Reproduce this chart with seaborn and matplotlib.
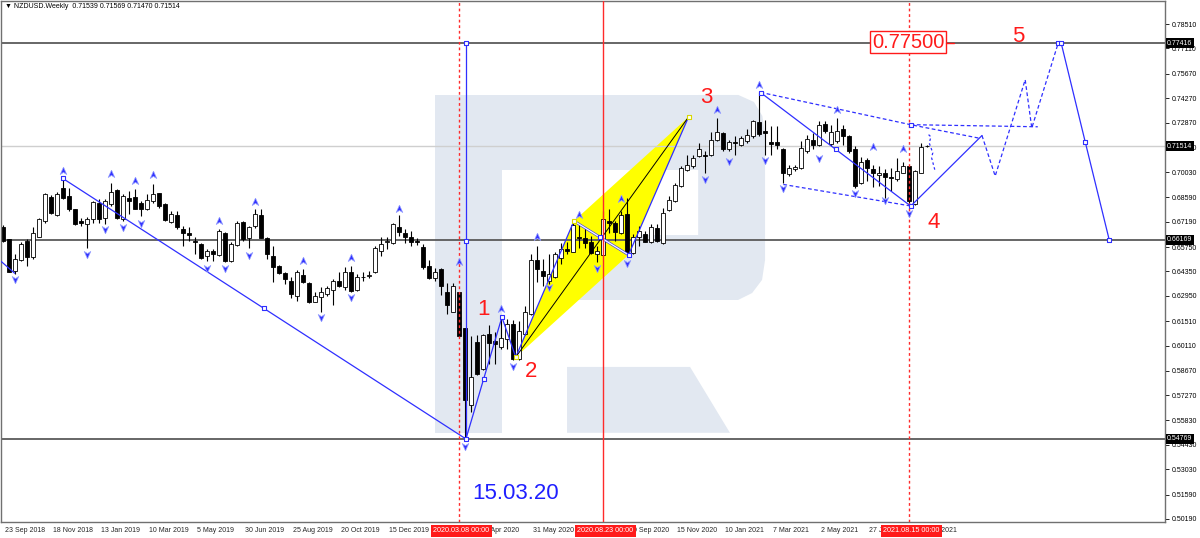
import numpy as np
import pandas as pd
import matplotlib
matplotlib.use("Agg")
import matplotlib.pyplot as plt
import matplotlib.transforms as mtransforms
from matplotlib.patches import Polygon
import seaborn as sns

# ---- weekly NZDUSD candles, index 0 = week of 23 Sep 2018 -------------
opens = [0.6687, 0.6620, 0.6440, 0.6502, 0.6610, 0.6516, 0.6633, 0.6724, 0.6863, 0.6757,
         0.6914, 0.6867, 0.6795, 0.6724, 0.6705, 0.6738, 0.6829, 0.6743, 0.6819, 0.6899,
         0.6738, 0.6857, 0.6863, 0.6829, 0.6791, 0.6838, 0.6882, 0.6819, 0.6721, 0.6759,
         0.6681, 0.6654, 0.6610, 0.6591, 0.6521, 0.6554, 0.6529, 0.6658, 0.6496, 0.6586,
         0.6719, 0.6624, 0.6696, 0.6757, 0.6629, 0.6521, 0.6464, 0.6424, 0.6382, 0.6297,
         0.6415, 0.6367, 0.6263, 0.6287, 0.6306, 0.6329, 0.6382, 0.6344, 0.6434, 0.6329,
         0.6401, 0.6411, 0.6430, 0.6553, 0.6605, 0.6597, 0.6692, 0.6658, 0.6635, 0.6611,
         0.6578, 0.6464, 0.6396, 0.6449, 0.6316, 0.6206, 0.6316, 0.6111, 0.5674, 0.6031,
         0.5879, 0.6078, 0.6040, 0.6002, 0.6046, 0.6135, 0.5936, 0.6078, 0.6192, 0.6502,
         0.6439, 0.6382, 0.6401, 0.6515, 0.6563, 0.6548, 0.6635, 0.6624, 0.6605, 0.6534,
         0.6529, 0.6724, 0.6715, 0.6658, 0.6762, 0.6540, 0.6635, 0.6648, 0.6605, 0.6686,
         0.6597, 0.6787, 0.6838, 0.6924, 0.7015, 0.7038, 0.7095, 0.7104, 0.7104, 0.7186,
         0.7228, 0.7133, 0.7175, 0.7161, 0.7180, 0.7209, 0.7289, 0.7238, 0.7175, 0.7175,
         0.7137, 0.6990, 0.7023, 0.7028, 0.7123, 0.7186, 0.7161, 0.7279, 0.7167, 0.7180,
         0.7251, 0.7209, 0.7133, 0.6939, 0.7072, 0.7024, 0.6989, 0.7000, 0.6977, 0.6962,
         0.7000, 0.7038, 0.6819, 0.7000, 0.71539]
highs = [0.6700, 0.6620, 0.6535, 0.6601, 0.6620, 0.6687, 0.6743, 0.6886, 0.6871, 0.6890,
         0.6971, 0.6914, 0.6795, 0.6743, 0.6749, 0.6838, 0.6848, 0.6852, 0.6943, 0.6905,
         0.6876, 0.6895, 0.6909, 0.6838, 0.6876, 0.6933, 0.6886, 0.6829, 0.6781, 0.6781,
         0.6696, 0.6687, 0.6630, 0.6597, 0.6563, 0.6563, 0.6681, 0.6662, 0.6601, 0.6724,
         0.6724, 0.6696, 0.6791, 0.6791, 0.6635, 0.6582, 0.6472, 0.6430, 0.6401, 0.6445,
         0.6449, 0.6373, 0.6316, 0.6344, 0.6350, 0.6392, 0.6434, 0.6458, 0.6464, 0.6420,
         0.6434, 0.6439, 0.6582, 0.6635, 0.6635, 0.6715, 0.6757, 0.6677, 0.6668, 0.6629,
         0.6591, 0.6502, 0.6453, 0.6453, 0.6369, 0.6369, 0.6320, 0.6111, 0.6065, 0.6069,
         0.6078, 0.6130, 0.6088, 0.6179, 0.6164, 0.6160, 0.6154, 0.6240, 0.6534, 0.6582,
         0.6506, 0.6534, 0.6544, 0.6597, 0.6601, 0.6724, 0.6705, 0.6686, 0.6639, 0.6582,
         0.6782, 0.6791, 0.6724, 0.6782, 0.6857, 0.6648, 0.6696, 0.6667, 0.6705, 0.6705,
         0.6800, 0.6867, 0.6943, 0.7038, 0.7099, 0.7104, 0.7171, 0.7123, 0.7232, 0.7313,
         0.7232, 0.7190, 0.7213, 0.7209, 0.7251, 0.7304, 0.7460, 0.7304, 0.7266, 0.7266,
         0.7142, 0.7047, 0.7047, 0.7180, 0.7218, 0.7228, 0.7294, 0.7294, 0.7275, 0.7313,
         0.7275, 0.7218, 0.7152, 0.7091, 0.7085, 0.7047, 0.7041, 0.7019, 0.7028, 0.7085,
         0.7061, 0.7041, 0.7015, 0.7171, 0.71569]
lows = [0.6601, 0.6430, 0.6420, 0.6496, 0.6464, 0.6506, 0.6630, 0.6715, 0.6762, 0.6753,
        0.6848, 0.6781, 0.6702, 0.6696, 0.6567, 0.6715, 0.6715, 0.6705, 0.6810, 0.6734,
        0.6724, 0.6762, 0.6791, 0.6753, 0.6787, 0.6829, 0.6800, 0.6724, 0.6715, 0.6677,
        0.6582, 0.6610, 0.6535, 0.6506, 0.6496, 0.6496, 0.6525, 0.6487, 0.6487, 0.6582,
        0.6611, 0.6572, 0.6686, 0.6624, 0.6506, 0.6377, 0.6420, 0.6363, 0.6282, 0.6268,
        0.6369, 0.6255, 0.6259, 0.6206, 0.6297, 0.6244, 0.6344, 0.6331, 0.6320, 0.6325,
        0.6382, 0.6396, 0.6426, 0.6521, 0.6563, 0.6591, 0.6639, 0.6597, 0.6582, 0.6586,
        0.6449, 0.6392, 0.6382, 0.6301, 0.6192, 0.6202, 0.6059, 0.5477, 0.5632, 0.5841,
        0.5869, 0.5907, 0.5907, 0.5993, 0.5993, 0.5926, 0.5926, 0.6073, 0.6187, 0.6373,
        0.6354, 0.6363, 0.6395, 0.6477, 0.6534, 0.6544, 0.6572, 0.6572, 0.6534, 0.6487,
        0.6525, 0.6658, 0.6610, 0.6648, 0.6540, 0.6534, 0.6582, 0.6601, 0.6597, 0.6601,
        0.6591, 0.6782, 0.6833, 0.6920, 0.7009, 0.7028, 0.7091, 0.7000, 0.7095, 0.7180,
        0.7123, 0.7123, 0.7104, 0.7152, 0.7171, 0.7200, 0.7213, 0.7099, 0.7099, 0.7133,
        0.6943, 0.6981, 0.7009, 0.7023, 0.7114, 0.7133, 0.7152, 0.7228, 0.7152, 0.7171,
        0.7161, 0.7114, 0.6914, 0.6933, 0.6952, 0.6920, 0.6924, 0.6857, 0.6895, 0.6952,
        0.6996, 0.6810, 0.6813, 0.6996, 0.71470]
closes = [0.6610, 0.6434, 0.6506, 0.6591, 0.6516, 0.6654, 0.6738, 0.6878, 0.6772, 0.6880,
          0.6854, 0.6791, 0.6705, 0.6711, 0.6738, 0.6833, 0.6738, 0.6838, 0.6892, 0.6742,
          0.6867, 0.6838, 0.6795, 0.6795, 0.6844, 0.6876, 0.6810, 0.6730, 0.6762, 0.6687,
          0.6658, 0.6643, 0.6605, 0.6512, 0.6554, 0.6535, 0.6668, 0.6496, 0.6591, 0.6715,
          0.6620, 0.6692, 0.6762, 0.6629, 0.6534, 0.6458, 0.6426, 0.6392, 0.6306, 0.6430,
          0.6373, 0.6259, 0.6293, 0.6316, 0.6339, 0.6382, 0.6350, 0.6430, 0.6325, 0.6401,
          0.6405, 0.6415, 0.6567, 0.6591, 0.6611, 0.6706, 0.6662, 0.6633, 0.6605, 0.6601,
          0.6458, 0.6398, 0.6434, 0.6350, 0.6244, 0.6354, 0.6065, 0.5698, 0.5831, 0.5850,
          0.6069, 0.6027, 0.6021, 0.6054, 0.6135, 0.5936, 0.6092, 0.6206, 0.6502, 0.6449,
          0.6407, 0.6420, 0.6534, 0.6563, 0.6553, 0.6700, 0.6624, 0.6597, 0.6540, 0.6553,
          0.6738, 0.6715, 0.6662, 0.6757, 0.6544, 0.6635, 0.6667, 0.6605, 0.6692, 0.6610,
          0.6772, 0.6844, 0.6928, 0.7028, 0.7042, 0.7085, 0.7137, 0.7095, 0.7186, 0.7232,
          0.7133, 0.7175, 0.7171, 0.7200, 0.7218, 0.7294, 0.7224, 0.7228, 0.7167, 0.7161,
          0.6996, 0.7028, 0.7032, 0.7139, 0.7194, 0.7161, 0.7275, 0.7241, 0.7232, 0.7241,
          0.7209, 0.7123, 0.6924, 0.7061, 0.7028, 0.6996, 0.6996, 0.6977, 0.6971, 0.7009,
          0.7038, 0.6838, 0.7009, 0.7148, 0.71514]

# fractal arrows (week index, price)
up_w = [10, 18, 22, 25, 36, 42, 50, 58, 66, 76, 83, 89, 96, 103, 119, 126, 139, 145, 150]
up_p = [0.7009, 0.6990, 0.6952, 0.6985, 0.6724, 0.6832, 0.6496, 0.6510, 0.6795, 0.6490,
        0.6221, 0.6635, 0.6757, 0.6848, 0.7357, 0.7503, 0.7357, 0.7148, 0.7133]
dn_w = [2, 14, 17, 20, 23, 34, 37, 41, 53, 58, 77, 85, 91, 99, 104, 117, 121, 127, 130,
        136, 142, 147, 151]
dn_p = [0.6392, 0.6534, 0.6677, 0.6687, 0.6715, 0.6453, 0.6453, 0.6529, 0.6174, 0.6288,
        0.5438, 0.5894, 0.6345, 0.6453, 0.6483, 0.6966, 0.7066, 0.7072, 0.6915, 0.7086,
        0.6886, 0.6844, 0.6768]

# analysis lines
lead_w, lead_p = [-0.5, 2.0], [0.6500, 0.6425]
long_w, long_p = [10.0, 77.2], [0.6968, 0.5477]
vert_w, vert_p = [77.2, 77.2], [0.77416, 0.54769]
wave_w = [77.2, 83.2, 85.5]
wave_p = [0.5477, 0.6174, 0.5945]
xa_w, xa_p = [85.5, 95.2], [0.5945, 0.6724]
ab_w, ab_p = [95.2, 104.3], [0.6724, 0.6530]
bc_w, bc_p = [104.3, 114.3], [0.6530, 0.7319]
xc_w, xc_p = [85.5, 114.3], [0.5945, 0.7319]
peak_w, peak_p = [126.3, 151.3], [0.7459, 0.6810]
up4_w, up4_p = [151.5, 163.2], [0.6815, 0.7213]
proj_w = [163.2, 165.4, 170.4, 171.5, 175.9]
proj_p = [0.7213, 0.6981, 0.7532, 0.7256, 0.77416]
drop_w = [176.4, 180.4, 184.4]
drop_p = [0.77416, 0.7177, 0.66169]
chan_hi_w, chan_hi_p = [126.3, 151.3, 163.0], [0.7460, 0.7275, 0.7196]
chan_flat_w, chan_flat_p = [151.3, 172.5], [0.7275, 0.7263]
chan_lo_w, chan_lo_p = [130.1, 151.3], [0.6933, 0.6810]
hook_w = [154.3, 154.7, 154.4, 155.0, 154.8, 155.4]
hook_p = [0.7218, 0.7205, 0.7171, 0.7114, 0.7086, 0.7009]
sq_w = [10.0, 43.6, 77.2, 77.2, 77.2, 80.2, 83.2, 99.6, 104.3, 126.3, 138.9, 151.3, 151.3,
        175.9, 176.4, 180.4, 184.4]
sq_p = [0.6968, 0.6224, 0.77416, 0.6609, 0.5477, 0.5822, 0.6174, 0.6630, 0.6530, 0.7459,
        0.7133, 0.6810, 0.7275, 0.77416, 0.77416, 0.7177, 0.66169]
ysq_w, ysq_p = [85.5, 95.2, 114.3], [0.5945, 0.6724, 0.7319]

levels = [0.77416, 0.66169, 0.54769]
bid = 0.71514
red_solid = [100]
red_dotted = [76, 151]
red_dates = ["2020.03.08 00:00", "2020.08.23 00:00", "2021.08.15 00:00"]
red_date_w = [76, 100, 151]

date_w = [0, 8, 16, 24, 32, 40, 48, 56, 64, 72, 80, 88, 96, 104, 112, 120, 128, 136, 144, 152]
date_lbl = ["23 Sep 2018", "18 Nov 2018", "13 Jan 2019", "10 Mar 2019", "5 May 2019",
            "30 Jun 2019", "25 Aug 2019", "20 Oct 2019", "15 Dec 2019", "9 Feb 2020",
            "5 Apr 2020", "31 May 2020", "26 Jul 2020", "20 Sep 2020", "15 Nov 2020",
            "10 Jan 2021", "7 Mar 2021", "2 May 2021", "27 Jun 2021", "22 Aug 2021"]
price_ticks = [0.78510, 0.77110, 0.75670, 0.74270, 0.72870, 0.71430, 0.70030, 0.68590,
               0.67190, 0.65750, 0.64350, 0.62950, 0.61510, 0.60110, 0.58670, 0.57270,
               0.55830, 0.54430, 0.53030, 0.51590, 0.50190]

wave_lbl = ["1", "2", "3", "4", "5"]
wave_lbl_w = [80.2, 88.0, 117.2, 155.2, 169.2]
wave_lbl_p = [0.6215, 0.5860, 0.7428, 0.6718, 0.7782]

df = pd.DataFrame({"open": opens, "high": highs, "low": lows, "close": closes})
df["week"] = np.arange(len(df))
df["bull"] = df["close"] >= df["open"]

sns.set_style("white")
plt.rcParams["font.family"] = ["Liberation Sans", "DejaVu Sans"]

BLUE = "#2f2fff"
RED = "#ff2a2a"

fig = plt.figure(figsize=(12, 5.38), dpi=100)
ax = fig.add_axes([1 / 1200, 1 - 522 / 538, 1164 / 1200, 521 / 538])
ax.set_xlim(-0.28, 193.7)
ax.set_ylim(0.50018, 0.79826)

# ---- watermark logo ---------------------------------------------------
wm = "#e2e8f1"
logo = [
    [(72.0, 0.5512), (83.2, 0.5512), (83.2, 0.7445), (72.0, 0.7445)],
    [(83.2, 0.7016), (116.0, 0.7016), (116.0, 0.7445), (83.2, 0.7445)],
    [(115.9, 0.7445), (122.6, 0.7445), (125.2, 0.7405), (126.6, 0.7325), (127.05, 0.7216),
     (127.05, 0.6501), (126.55, 0.6387), (124.9, 0.6312), (122.55, 0.6272), (115.9, 0.6272)],
    [(94.05, 0.6272), (116.0, 0.6272), (116.0, 0.6644), (94.05, 0.6644)],
    [(94.05, 0.5889), (114.55, 0.5889), (121.2, 0.5512), (94.05, 0.5512)],
]
for pts in logo:
    ax.add_patch(Polygon(pts, closed=True, facecolor=wm, edgecolor="none", zorder=0.5))

# ---- yellow pattern ----------------------------------------------------
ax.add_patch(Polygon(list(zip([xa_w[0], ab_w[0], ab_w[1]], [xa_p[0], ab_p[0], ab_p[1]])),
                     facecolor="#ffff00", edgecolor="none", zorder=1))
ax.add_patch(Polygon(list(zip([ab_w[0], ab_w[1], bc_w[1]], [ab_p[0], ab_p[1], bc_p[1]])),
                     facecolor="#ffff00", edgecolor="none", zorder=1))

# ---- horizontal levels -------------------------------------------------
for lv in levels:
    ax.axhline(lv, color="#5a5a5a", lw=1.3, zorder=1.2)
ax.axhline(bid, color="#cfcfcf", lw=1.0, zorder=1.1)

# ---- candles -------------------------------------------------------------
ax.vlines(df["week"], df["low"], df["high"], color="black", lw=0.8, zorder=2)
body_lo = df[["open", "close"]].min(axis=1)
body_h = (df["close"] - df["open"]).abs().clip(lower=0.00025)
ax.bar(df["week"], body_h, bottom=body_lo, width=0.62,
       color=np.where(df["bull"], "white", "black"), edgecolor="black", lw=0.6, zorder=2.1)

# ---- blue analysis lines -----------------------------------------------
def line(xs, ys, ls="-", color=BLUE, lw=0.9, z=3):
    sns.lineplot(x=xs, y=ys, ax=ax, color=color, lw=lw, linestyle=ls, sort=False,
                 estimator=None, zorder=z)

line(lead_w, lead_p)
line(long_w, long_p)
line(vert_w, vert_p)
line(wave_w, wave_p)
line(xa_w, xa_p)
line(ab_w, ab_p, lw=1.8)
line(ab_w, ab_p, color="white", lw=0.9, z=3.1)
line(bc_w, bc_p)
line(xc_w, xc_p, color="black", lw=0.7)
line(peak_w, peak_p)
line(up4_w, up4_p)
line(proj_w, proj_p, ls=(0, (3, 2)))
line(drop_w, drop_p)
line(chan_hi_w, chan_hi_p, ls=(0, (3, 2)))
line(chan_flat_w, chan_flat_p, ls=(0, (3, 2)))
line(chan_lo_w, chan_lo_p, ls=(0, (3, 2)))
line(hook_w, hook_p, ls=(0, (2, 2)))

# ---- red time markers --------------------------------------------------
for w in red_solid:
    ax.axvline(w, color=RED, lw=1.0, zorder=4)
for w in red_dotted:
    ax.axvline(w, color=RED, lw=1.0, ls=(0, (2, 2)), zorder=4)

# ---- fractal arrows and anchor squares ---------------------------------
dart_up = [(0, 1), (0.75, -0.7), (0, -0.2), (-0.75, -0.7), (0, 1)]
dart_dn = [(0, -1), (0.75, 0.7), (0, 0.2), (-0.75, 0.7), (0, -1)]
sns.scatterplot(x=up_w, y=up_p, ax=ax, marker=dart_up, s=40, color="#3434ff",
                edgecolor="#9aa4ff", linewidth=0.5, zorder=5)
sns.scatterplot(x=dn_w, y=dn_p, ax=ax, marker=dart_dn, s=40, color="#3434ff",
                edgecolor="#9aa4ff", linewidth=0.5, zorder=5)
sns.scatterplot(x=sq_w, y=sq_p, ax=ax, marker="s", s=12, color="white",
                edgecolor=BLUE, linewidth=0.8, zorder=5)
sns.scatterplot(x=ysq_w, y=ysq_p, ax=ax, marker="s", s=12, color="white",
                edgecolor="#d8d800", linewidth=0.8, zorder=5)

# ---- labels ------------------------------------------------------------
for t, w, p in zip(wave_lbl, wave_lbl_w, wave_lbl_p):
    ax.text(w, p, t, color="#ff1a1a", fontsize=16, ha="center", va="center", zorder=6)
ax.text(85.4, 0.5163, "15.03.20", color="#1f1fff", fontsize=16, ha="center",
        va="center", zorder=6)
ax.text(150.9, 0.7748, "0.77500", color="#ff1a1a", fontsize=14.5, ha="center",
        va="center", zorder=6,
        bbox=dict(facecolor="white", edgecolor="#ff1a1a", lw=1, pad=1.2))
line([157.2, 158.6], [0.7742, 0.7742], color="#ff1a1a", lw=1.0, z=6)

fig.text(5 / 1200, 1 - 7 / 538, "\u25bc NZDUSD.Weekly  0.71539 0.71569 0.71470 0.71514",
         fontsize=5, va="center", ha="left", color="black")

# ---- axes styling ------------------------------------------------------
for s in ax.spines.values():
    s.set_color("#707070")
    s.set_linewidth(1.0)
ax.yaxis.tick_right()
ax.set_yticks(price_ticks)
ax.set_yticklabels([f"{v:.5f}" for v in price_ticks])
ax.tick_params(axis="y", direction="out", length=3, width=0.6, pad=1.5,
               labelsize=5, colors="black")
ax.set_xticks(date_w)
ax.set_xticklabels([])
ax.tick_params(axis="x", direction="out", length=3, width=0.6)
ax.set_xlabel("")
ax.set_ylabel("")

btr = mtransforms.blended_transform_factory(ax.transData, ax.transAxes)
for w, t in zip(date_w, date_lbl):
    ax.text(w + 0.35, -0.0165, t, transform=btr, fontsize=5, ha="left", va="center",
            clip_on=False, zorder=7)
# the red crosshair date boxes sit a little right of their line, as in MT4
for w, t in zip(red_date_w, red_dates):
    ax.text(w + 0.45, -0.0165, t, transform=btr, fontsize=5.2, ha="center", va="center",
            color="white", clip_on=False, zorder=8,
            bbox=dict(facecolor="#ff1a1a", edgecolor="none", pad=1.8))

rtr = mtransforms.blended_transform_factory(ax.transAxes, ax.transData)
for p in [0.77416, bid, 0.66169, 0.54769]:
    ax.text(1.0018, p, f"{p:.5f}", transform=rtr, fontsize=5, ha="left", va="center",
            color="white", clip_on=False, zorder=8,
            bbox=dict(facecolor="black", edgecolor="none", pad=1.0))

fig.savefig("out.png", dpi=100, facecolor="white")
